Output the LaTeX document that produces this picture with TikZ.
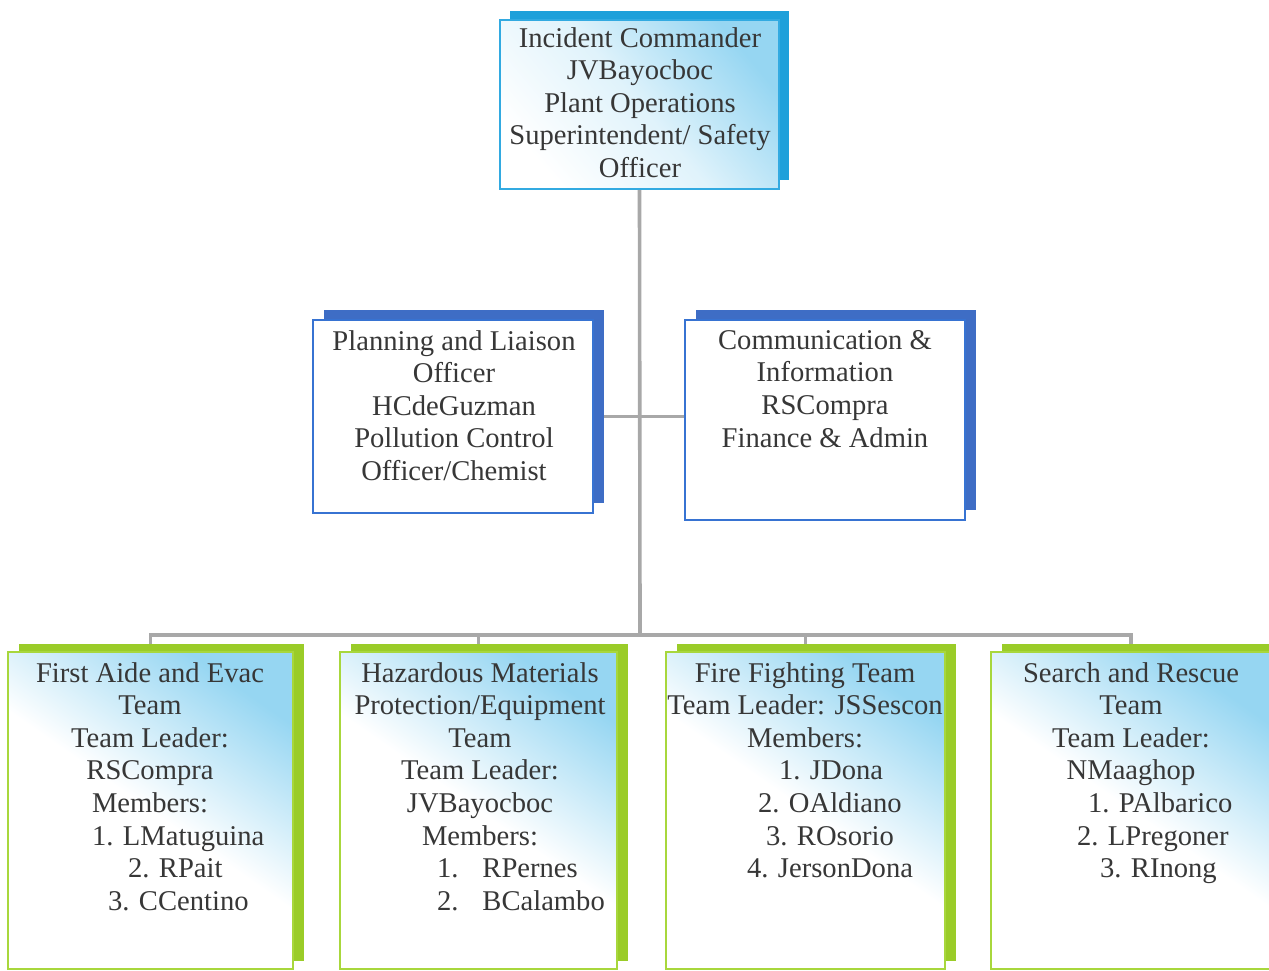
\documentclass[tikz,border=0pt]{standalone}
\usepackage{fontspec}
\setmainfont{Liberation Serif}
\usetikzlibrary{shadows}
\definecolor{topblue}{RGB}{30,160,218}
\definecolor{topline}{RGB}{50,170,225}
\definecolor{midblue}{RGB}{62,109,197}
\definecolor{midline}{RGB}{55,115,210}
\definecolor{grnshadow}{RGB}{154,204,40}
\definecolor{grnline}{RGB}{168,215,60}
\definecolor{skyfill}{RGB}{150,214,242}
\definecolor{connclr}{RGB}{168,168,168}
\definecolor{txtclr}{RGB}{55,55,55}
\newcommand\Lft[2]{\makebox[0pt][l]{\hspace*{#1pt}#2}}
\pgfdeclarelayer{bg}
\pgfsetlayers{bg,main}
\begin{document}
\begin{tikzpicture}[x=1pt,y=-1pt,
  conn/.style={draw=connclr, line width=3.6pt},
  basebox/.style={rectangle, inner sep=0pt},
  topbox/.style={basebox, draw=topline, line width=1.8pt,
    general shadow={fill=topblue, shadow xshift=10pt, shadow yshift=9pt},
    top color=skyfill, bottom color=white, middle color=white!70!skyfill, shading angle=-50},
  midbox/.style={basebox, draw=midline, line width=1.6pt, fill=white,
    general shadow={fill=midblue, shadow xshift=11pt, shadow yshift=10pt}},
  teambox/.style={basebox, draw=grnline, line width=1.8pt,
    general shadow={fill=grnshadow, shadow xshift=11pt, shadow yshift=8pt},
    top color=skyfill, bottom color=white, middle color=white, shading angle=-35},
  txt/.style={font=\fontsize{28.6}{32.6}\selectfont, text=txtclr, align=center, inner sep=0pt, anchor=north}]
\useasboundingbox (0,0) rectangle (1269,970);
\clip (0,0) rectangle (1269,970);

% boxes
\node[topbox, minimum width=279pt, minimum height=169pt] (ic) at (639.5,104.5) {};
\node[midbox, minimum width=280pt, minimum height=193pt] (ml) at (453,416.5) {};
\node[midbox, minimum width=280pt, minimum height=200pt] (mr) at (825,420) {};
\node[teambox, minimum width=285pt, minimum height=317pt] (b1) at (150.5,810.5) {};
\node[teambox, minimum width=277pt, minimum height=317pt] (b2) at (478.5,810.5) {};
\node[teambox, minimum width=279pt, minimum height=317pt] (b3) at (805.5,810.5) {};
\node[teambox, minimum width=280pt, minimum height=317pt] (b4) at (1131,810.5) {};

% texts
\node[txt] (ict) at (640,27) {Incident Commander\\JVBayocboc\\Plant Operations\\Superintendent/ Safety\\Officer};
\node[txt] (mlt) at (454,330) {Planning and Liaison\\Officer\\HCdeGuzman\\Pollution Control\\Officer/Chemist};
\node[txt] (mrt) at (825,330) {Communication \&\\Information\\RSCompra\\Finance \& Admin};
\node[txt] (b1t) at (150,662) {First Aide and Evac\\Team\\Team Leader:\\RSCompra\\Members:\\
  \Lft{-58}{1. LMatuguina}\\\Lft{-22}{2. RPait}\\\Lft{-42}{3. CCentino}};
\node[txt] (b2t) at (480,662) {Hazardous Materials\\Protection/Equipment\\Team\\Team Leader:\\JVBayocboc\\Members:\\
  \Lft{-43}{1.\hspace{24pt}RPernes}\\\Lft{-43}{2.\hspace{24pt}BCalambo}};
\node[txt] (b3t) at (805,662) {Fire Fighting Team\\Team Leader: JSSescon\\Members:\\
  \Lft{-26}{1. JDona}\\\Lft{-47}{2. OAldiano}\\\Lft{-39}{3. ROsorio}\\\Lft{-58}{4. JersonDona}};
\node[txt] (b4t) at (1131,662) {Search and Rescue\\Team\\Team Leader:\\NMaaghop\\
  \Lft{-43}{1. PAlbarico}\\\Lft{-54}{2. LPregoner}\\\Lft{-31}{3. RInong}};

% connectors
\coordinate (bus) at (640,635);
\begin{pgfonlayer}{bg}
\draw[conn] (ic.south) -- (bus);
\draw[conn] (ml.east) -- (mr.west |- ml.east);
\draw[conn, line cap=rect] (b1.north |- bus) -- (b4.north |- bus);
\draw[conn] (b1.north |- bus) -- (b1.north);
\draw[conn] (b2.north |- bus) -- (b2.north);
\draw[conn] (b3.north |- bus) -- (b3.north);
\draw[conn] (b4.north |- bus) -- (b4.north);
\end{pgfonlayer}
\end{tikzpicture}
\end{document}
